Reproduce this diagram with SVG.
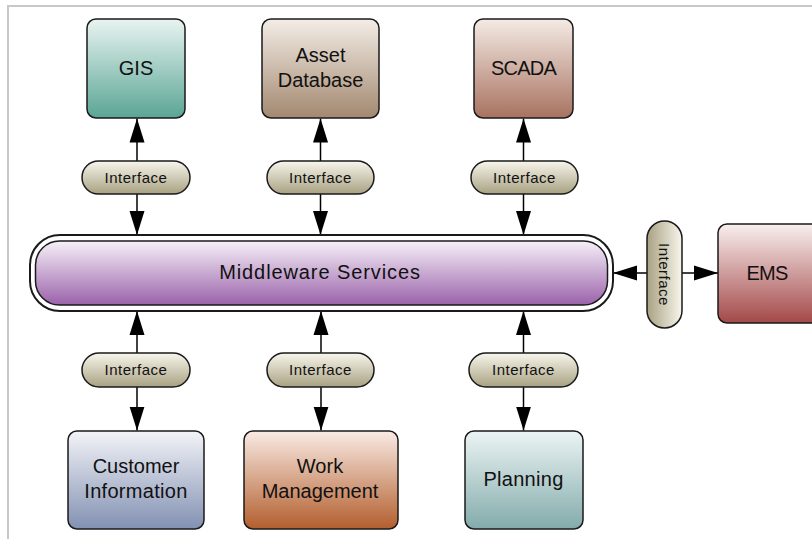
<svg xmlns="http://www.w3.org/2000/svg" width="812" height="539" viewBox="0 0 812 539">
<defs>
<linearGradient id="gGIS" x1="0" y1="0" x2="0" y2="1"><stop offset="0" stop-color="#e8f4f1"/><stop offset="1" stop-color="#5aa595"/></linearGradient>
<linearGradient id="gAsset" x1="0" y1="0" x2="0" y2="1"><stop offset="0" stop-color="#f3ede6"/><stop offset="1" stop-color="#a38870"/></linearGradient>
<linearGradient id="gScada" x1="0" y1="0" x2="0" y2="1"><stop offset="0" stop-color="#f4ebe5"/><stop offset="1" stop-color="#a87260"/></linearGradient>
<linearGradient id="gEms" x1="0" y1="0" x2="0" y2="1"><stop offset="0" stop-color="#f9efef"/><stop offset="1" stop-color="#a34848"/></linearGradient>
<linearGradient id="gCust" x1="0" y1="0" x2="0" y2="1"><stop offset="0" stop-color="#f3f4f8"/><stop offset="1" stop-color="#8290b2"/></linearGradient>
<linearGradient id="gWork" x1="0" y1="0" x2="0" y2="1"><stop offset="0" stop-color="#f9ebe4"/><stop offset="1" stop-color="#b35e2d"/></linearGradient>
<linearGradient id="gPlan" x1="0" y1="0" x2="0" y2="1"><stop offset="0" stop-color="#ecf4f4"/><stop offset="1" stop-color="#83abab"/></linearGradient>
<linearGradient id="gPill" x1="0" y1="0" x2="0" y2="1"><stop offset="0" stop-color="#f8f6ec"/><stop offset="1" stop-color="#a8a182"/></linearGradient>
<linearGradient id="gMid" x1="0" y1="0" x2="0" y2="1"><stop offset="0" stop-color="#f6f0f8"/><stop offset="1" stop-color="#9a62aa"/></linearGradient>
<marker id="ah" markerUnits="userSpaceOnUse" markerWidth="24" markerHeight="16" refX="24" refY="8" orient="auto" viewBox="0 0 24 16">
<path d="M0,0.5 L24,8 L0,15.5 z" fill="#000"/>
</marker>
</defs>
<style>
.box{stroke:#1a1a1a;stroke-width:1.5}
.pill{fill:url(#gPill);stroke:#1a1a1a;stroke-width:1.5}
.lbl{font-family:"Liberation Sans",Arial,sans-serif;font-size:20px;fill:#111;text-anchor:middle}
.ilbl{font-family:"Liberation Sans",Arial,sans-serif;font-size:15px;fill:#111;text-anchor:middle;letter-spacing:0.5px}
.con{stroke:#000;stroke-width:1.5;fill:none;marker-end:url(#ah)}
</style>
<rect width="812" height="539" fill="#fff"/>
<path d="M8,539 L8,6 L812,6" fill="none" stroke="#c8c8c8" stroke-width="2"/>

<g id="connectors">
<line class="con" x1="137" y1="161" x2="137" y2="118.5"/>
<line class="con" x1="137" y1="194" x2="137" y2="235"/>
<line class="con" x1="320.5" y1="161" x2="320.5" y2="118.5"/>
<line class="con" x1="320.5" y1="194" x2="320.5" y2="235"/>
<line class="con" x1="523.5" y1="161" x2="523.5" y2="118.5"/>
<line class="con" x1="523.5" y1="194" x2="523.5" y2="235"/>
<line class="con" x1="137" y1="353" x2="137" y2="311"/>
<line class="con" x1="137" y1="387" x2="137" y2="430.5"/>
<line class="con" x1="321" y1="353" x2="321" y2="311"/>
<line class="con" x1="321" y1="387" x2="321" y2="430.5"/>
<line class="con" x1="523.5" y1="353" x2="523.5" y2="311"/>
<line class="con" x1="523.5" y1="387" x2="523.5" y2="430.5"/>
<line class="con" x1="647" y1="273" x2="613" y2="273"/>
<line class="con" x1="682" y1="273" x2="718" y2="273"/>
</g>

<g id="middleware">
<rect x="30" y="235" width="583" height="76" rx="30" fill="#fff" stroke="#1a1a1a" stroke-width="2"/>
<rect x="35.5" y="241" width="572" height="64" rx="24" fill="url(#gMid)" class="box"/>
<text class="lbl" x="320" y="279" letter-spacing="0.9">Middleware Services</text>
</g>

<g id="gis">
<rect class="box" x="87" y="19" width="98" height="99" rx="9" fill="url(#gGIS)"/>
<text class="lbl" x="136" y="75">GIS</text>
</g>
<g id="asset-database">
<rect class="box" x="262" y="19" width="117" height="99" rx="9" fill="url(#gAsset)"/>
<text class="lbl" x="320.5" y="62">Asset</text>
<text class="lbl" x="320.5" y="87">Database</text>
</g>
<g id="scada">
<rect class="box" x="474" y="19" width="99" height="99" rx="9" fill="url(#gScada)"/>
<text class="lbl" x="523.5" y="75" letter-spacing="-0.8">SCADA</text>
</g>
<g id="ems">
<rect class="box" x="718" y="224" width="110" height="99" rx="9" fill="url(#gEms)"/>
<text class="lbl" x="767" y="280" letter-spacing="-0.8">EMS</text>
</g>
<g id="customer-information">
<rect class="box" x="68" y="431" width="136" height="98" rx="9" fill="url(#gCust)"/>
<text class="lbl" x="136" y="473">Customer</text>
<text class="lbl" x="136" y="498" letter-spacing="0.3">Information</text>
</g>
<g id="work-management">
<rect class="box" x="244" y="431" width="154" height="98" rx="9" fill="url(#gWork)"/>
<text class="lbl" x="320" y="473">Work</text>
<text class="lbl" x="320" y="498">Management</text>
</g>
<g id="planning">
<rect class="box" x="465" y="431" width="118" height="98" rx="9" fill="url(#gPlan)"/>
<text class="lbl" x="523.5" y="486" letter-spacing="0.3">Planning</text>
</g>

<g id="interface-gis">
<rect class="pill" x="82" y="161" width="108" height="33" rx="16.5"/>
<text class="ilbl" x="136" y="182.5">Interface</text>
</g>
<g id="interface-asset">
<rect class="pill" x="267" y="161" width="107" height="33" rx="16.5"/>
<text class="ilbl" x="320.5" y="182.5">Interface</text>
</g>
<g id="interface-scada">
<rect class="pill" x="471" y="161" width="107" height="33" rx="16.5"/>
<text class="ilbl" x="524.5" y="182.5">Interface</text>
</g>
<g id="interface-customer">
<rect class="pill" x="82" y="353" width="108" height="34" rx="17"/>
<text class="ilbl" x="136" y="375">Interface</text>
</g>
<g id="interface-work">
<rect class="pill" x="267" y="353" width="107" height="34" rx="17"/>
<text class="ilbl" x="320.5" y="375">Interface</text>
</g>
<g id="interface-planning">
<rect class="pill" x="469" y="353" width="109" height="34" rx="17"/>
<text class="ilbl" x="523.5" y="375">Interface</text>
</g>
<g id="interface-ems">
<g transform="translate(664.5,274.5) rotate(90)">
<rect class="pill" x="-53.5" y="-17.5" width="107" height="35" rx="17.5"/>
<text class="ilbl" x="0" y="5.5">Interface</text>
</g>
</g>
</svg>
